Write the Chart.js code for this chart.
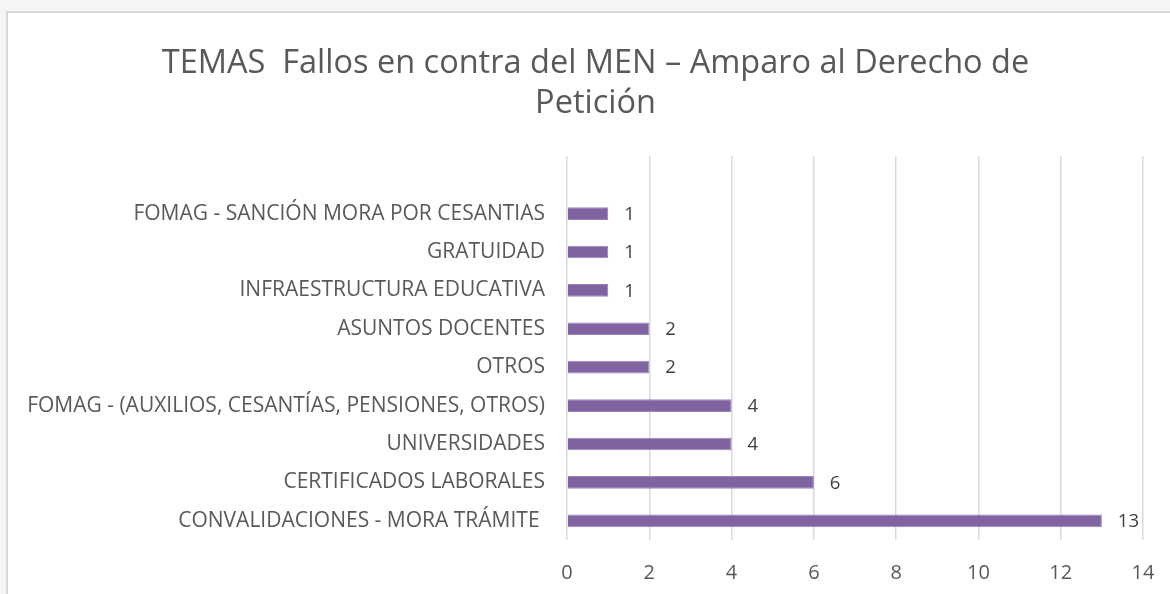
<!DOCTYPE html>
<html>
<head>
<meta charset="utf-8">
<script src="https://cdn.jsdelivr.net/npm/chart.js@4"></script>
<style>
  html, body { margin: 0; padding: 0; background: #f5f5f5; }
  #frame {
    position: absolute; left: 6px; top: 11px; width: 1200px; height: 620px;
    background: #ffffff; border: 2px solid #d9d9d9; box-sizing: border-box;
  }
  #wrap { position: absolute; left: 0; top: 0; width: 1170px; height: 594px; }
</style>
</head>
<body>
<div id="frame"></div>
<div id="wrap"><canvas id="temasChart"></canvas></div>
<script>
// Categories (top to bottom), the first one is the empty slot above the bars
const temas = [
    '',
    'FOMAG - SANCIÓN MORA POR CESANTIAS',
    'GRATUIDAD',
    'INFRAESTRUCTURA EDUCATIVA',
    'ASUNTOS DOCENTES',
    'OTROS',
    'FOMAG - (AUXILIOS, CESANTÍAS, PENSIONES, OTROS)',
    'UNIVERSIDADES',
    'CERTIFICADOS LABORALES',
    'CONVALIDACIONES - MORA TRÁMITE '
];
const fallos = [null, 1, 1, 1, 2, 2, 4, 4, 6, 13];
const xTicks = [0, 2, 4, 6, 8, 10, 12, 14];

const FONT = 'Open Sans';

// Value labels at the end of each bar
const valueLabels = {
    id: 'valueLabels',
    afterDatasetsDraw(chart) {
        const { ctx } = chart;
        const meta = chart.getDatasetMeta(0);
        ctx.save();
        ctx.font = '18.5px "' + FONT + '"';
        ctx.fillStyle = '#404040';
        ctx.textAlign = 'left';
        ctx.textBaseline = 'middle';
        meta.data.forEach((bar, i) => {
            if (fallos[i] == null) return;
            ctx.fillText(String(fallos[i]), bar.x + 16, bar.y + 1);
        });
        ctx.restore();
    }
};

// The original frame is wider than the picture, so its title sits a bit right of centre
const shiftTitle = {
    id: 'shiftTitle',
    afterLayout(chart) {
        if (chart.titleBlock) {
            chart.titleBlock.left += 24;
            chart.titleBlock.right += 24;
        }
    }
};

const ctx = document.getElementById('temasChart').getContext('2d');
const temasChart = new Chart(ctx, {
    type: 'bar',
    data: {
        labels: temas,
        datasets: [{
            data: fallos,
            backgroundColor: '#8064a2',
            borderColor: '#9a85b8',
            borderWidth: 1,
            barPercentage: 0.33,
            categoryPercentage: 1
        }]
    },
    options: {
        indexAxis: 'y',
        responsive: true,
        maintainAspectRatio: false,
        animation: false,
        layout: { padding: { left: 0, right: 27, top: 0, bottom: 0 } },
        scales: {
            x: {
                min: 0,
                max: 14,
                afterBuildTicks: (scale) => { scale.ticks = xTicks.map(v => ({ value: v })); },
                afterFit: (scale) => {
                    scale.height = 54;
                    scale.paddingLeft = 0;
                    scale.paddingRight = 0;
                },
                grid: { color: '#d9d9d9', lineWidth: 1.5, drawTicks: false },
                border: { display: false },
                ticks: {
                    color: '#595959',
                    padding: 21,
                    font: { family: FONT, size: 20 }
                }
            },
            y: {
                afterFit: (scale) => { scale.width = 567; },
                grid: { display: false, drawTicks: false },
                border: { display: false },
                ticks: {
                    color: '#595959',
                    padding: 22,
                    autoSkip: false,
                    font: { family: FONT, size: 21 }
                }
            }
        },
        plugins: {
            legend: { display: false },
            tooltip: { enabled: false },
            title: {
                display: true,
                text: ['TEMAS  Fallos en contra del MEN – Amparo al Derecho de', 'Petición'],
                color: '#595959',
                font: { family: FONT, size: 32.5, weight: 'normal', lineHeight: 1.23 },
                padding: { top: 44, bottom: 32 }
            }
        }
    },
    plugins: [valueLabels, shiftTitle]
});
</script>
</body>
</html>
